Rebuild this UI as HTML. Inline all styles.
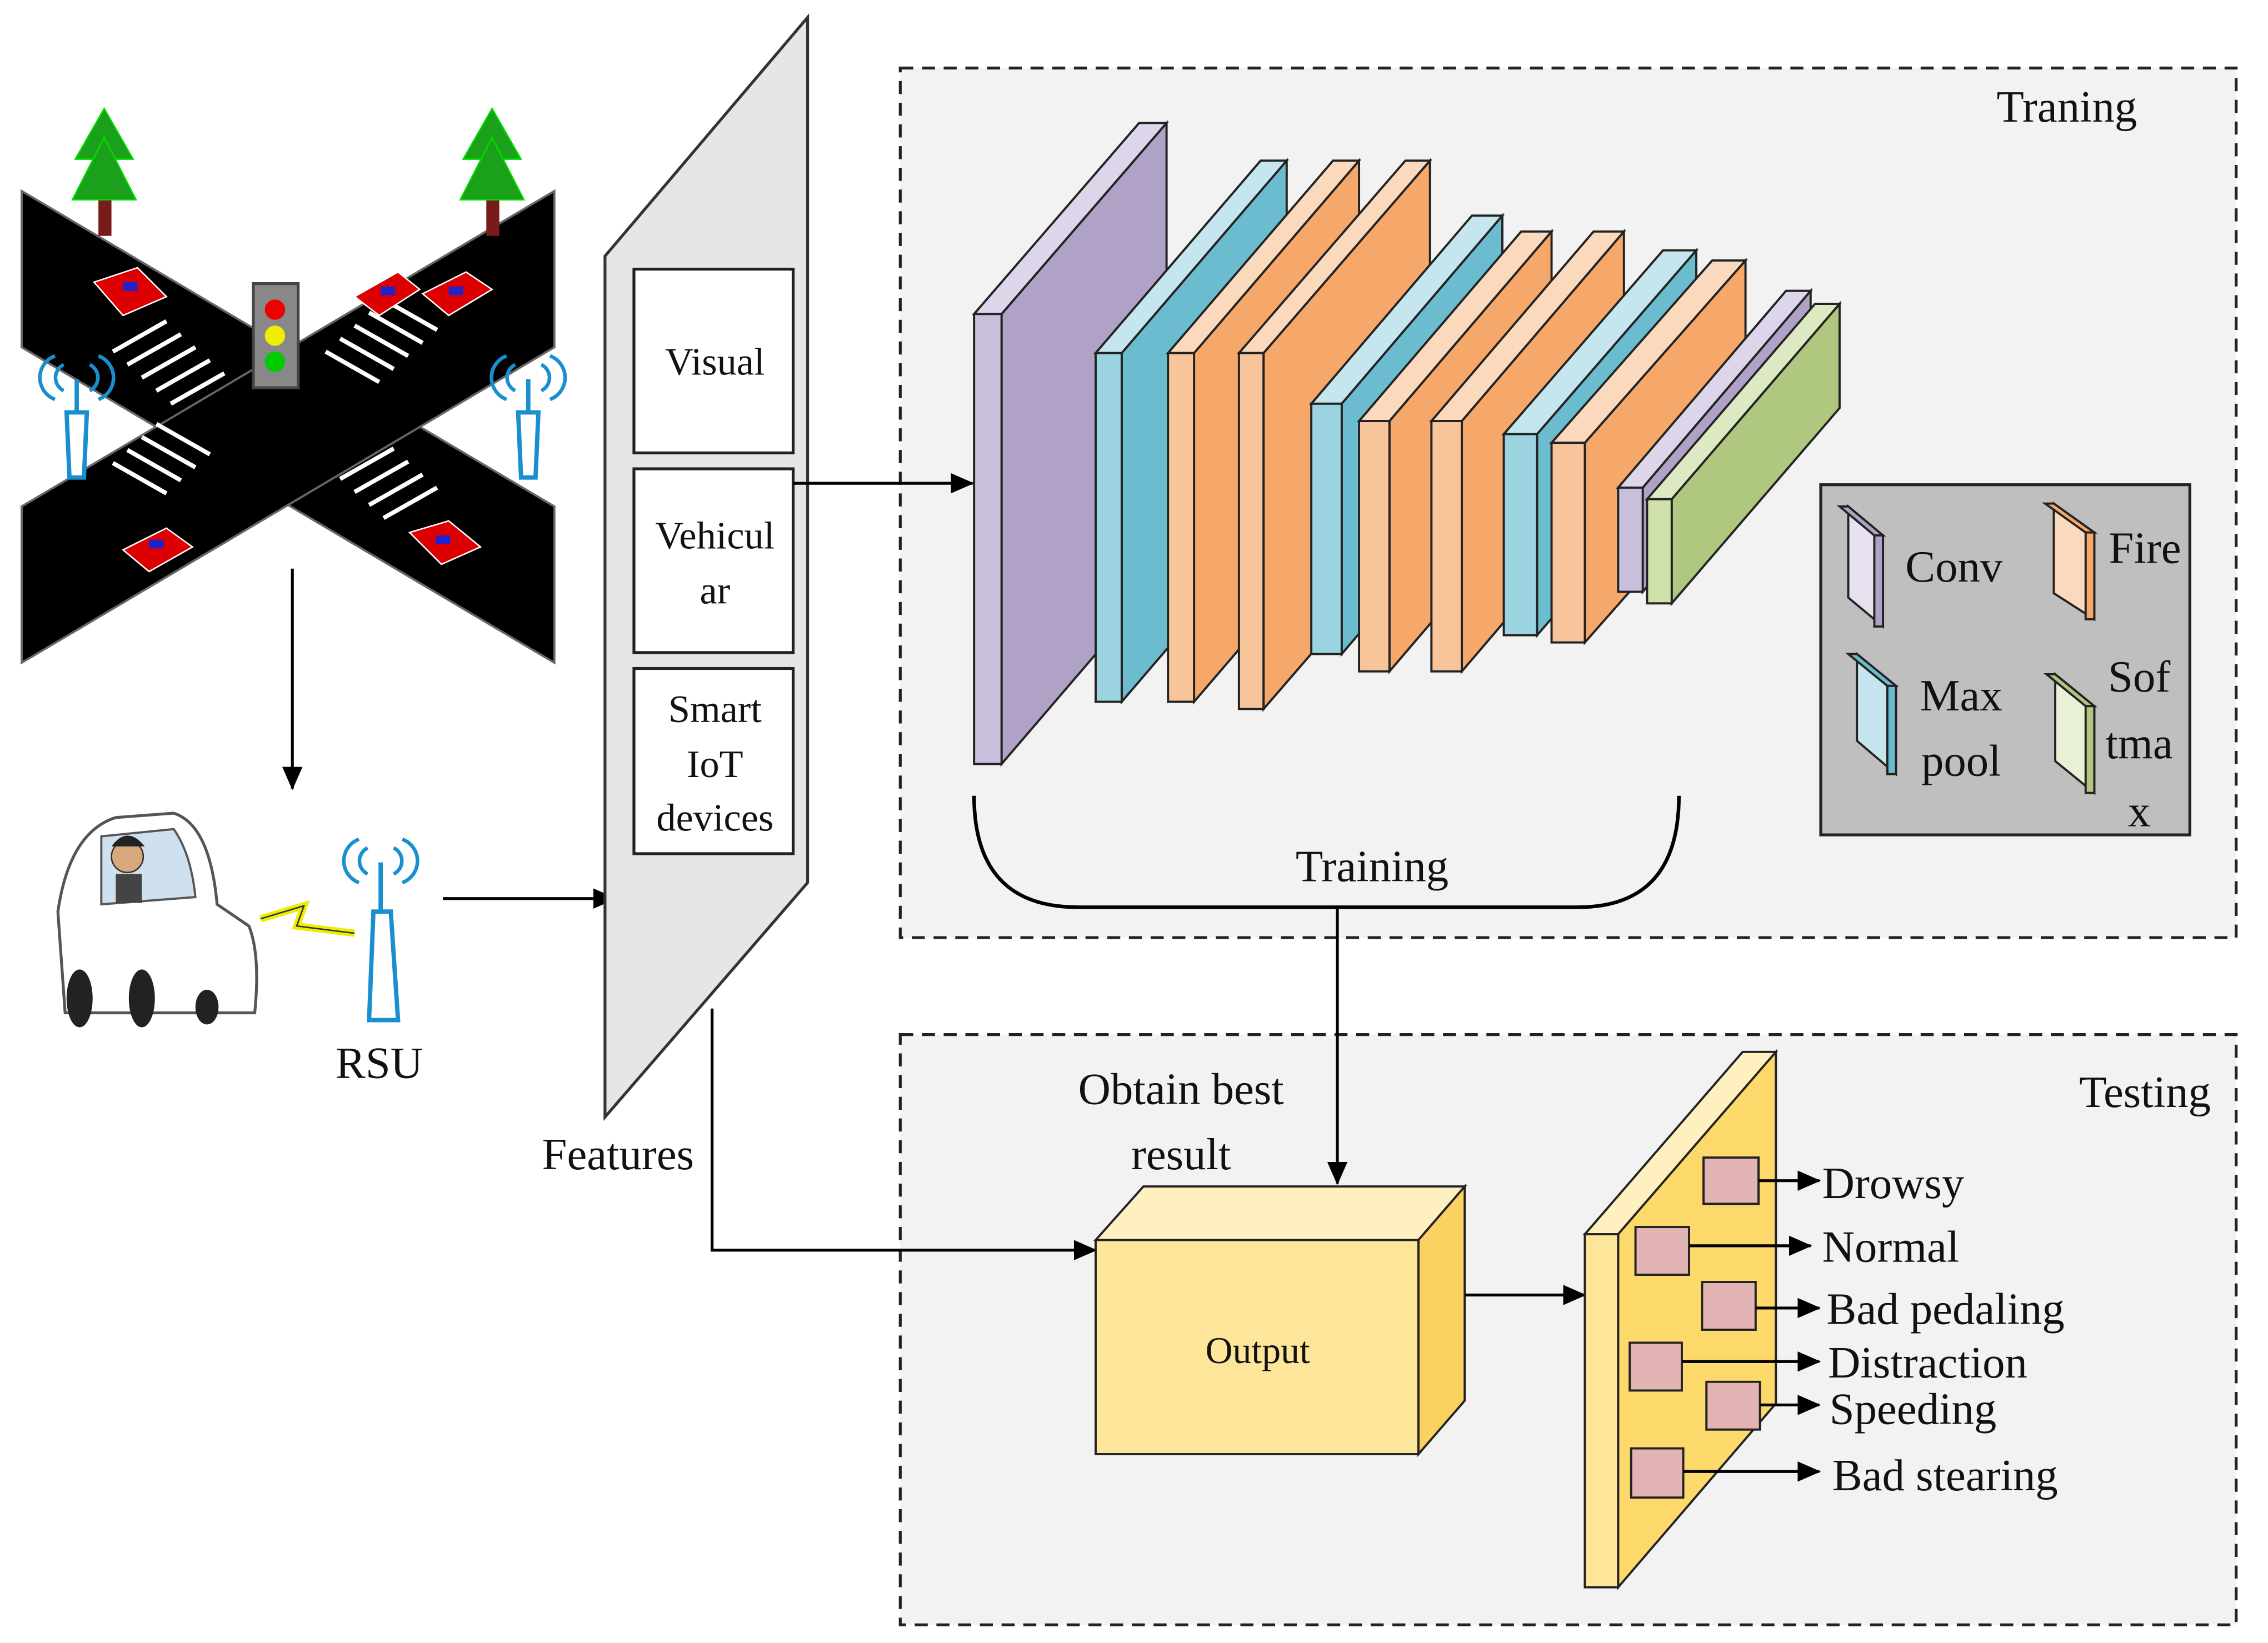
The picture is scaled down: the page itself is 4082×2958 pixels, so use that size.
<!DOCTYPE html>
<html><head><meta charset="utf-8"><style>
html,body{margin:0;padding:0;background:#fff;}
svg{display:block;}
text{font-family:"Liberation Serif",serif;fill:#111;}
</style></head><body>
<svg width="4082" height="2958" viewBox="0 0 1567 1135.5" xmlns="http://www.w3.org/2000/svg">
<defs>
<marker id="ar2" markerWidth="16" markerHeight="14" refX="15" refY="7" orient="auto" markerUnits="userSpaceOnUse"><path d="M0,0 L16,7 L0,14 z" fill="#000"/></marker>
</defs>
<rect width="1580" height="1140" fill="#fff"/>
<rect x="622" y="47" width="923" height="601" fill="#f2f2f2" stroke="#222" stroke-width="2" stroke-dasharray="9,6"/>
<rect x="622" y="715" width="923" height="408" fill="#f2f2f2" stroke="#222" stroke-width="2" stroke-dasharray="9,6"/>
<text x="1428" y="84" font-size="31" text-anchor="middle">Traning</text>
<text x="1482" y="765" font-size="31" text-anchor="middle">Testing</text>

<polygon points="15,132 383,350 383,458 15,240" fill="#000" stroke="#666" stroke-width="1.5"/>
<polygon points="383,132 383,240 15,458 15,350" fill="#000" stroke="#666" stroke-width="1.5"/>
<g stroke="#fff" stroke-width="3">
<line x1="78" y1="243" x2="115" y2="222"/><line x1="88" y1="252" x2="125" y2="231"/><line x1="98" y1="261" x2="135" y2="240"/><line x1="108" y1="270" x2="145" y2="249"/><line x1="118" y1="279" x2="155" y2="258"/>
<line x1="245" y1="225" x2="282" y2="246"/><line x1="255" y1="216" x2="292" y2="237"/><line x1="265" y1="207" x2="302" y2="228"/><line x1="235" y1="234" x2="272" y2="255"/><line x1="225" y1="243" x2="262" y2="264"/>
<line x1="78" y1="320" x2="115" y2="341"/><line x1="88" y1="311" x2="125" y2="332"/><line x1="98" y1="302" x2="135" y2="323"/><line x1="108" y1="293" x2="145" y2="314"/>
<line x1="245" y1="340" x2="282" y2="319"/><line x1="255" y1="349" x2="292" y2="328"/><line x1="265" y1="358" x2="302" y2="337"/><line x1="235" y1="331" x2="272" y2="310"/>
</g>
<g><rect x="68" y="135" width="9" height="28" fill="#7a1b1b"/><polygon points="72,75 52,110 92,110" fill="#1aa01a" stroke="#0d0" /><polygon points="72,95 50,138 94,138" fill="#1aa01a" stroke="#0d0"/></g>
<g><rect x="336" y="135" width="9" height="28" fill="#7a1b1b"/><polygon points="340,75 320,110 360,110" fill="#1aa01a" stroke="#0d0"/><polygon points="340,95 318,138 362,138" fill="#1aa01a" stroke="#0d0"/></g>
<rect x="175" y="196" width="31" height="72" fill="#888" stroke="#444" stroke-width="2"/>
<circle cx="190" cy="214" r="7" fill="#e00"/><circle cx="190" cy="232" r="7" fill="#ee0"/><circle cx="190" cy="250" r="7" fill="#0c0"/>
<g fill="#d00" stroke="#fff" stroke-width="1"><polygon points="65,195 95,185 115,205 85,218"/><polygon points="245,205 275,188 290,200 262,218"/><polygon points="292,203 322,188 340,200 310,218"/><polygon points="85,380 115,365 133,378 103,395"/><polygon points="283,368 310,360 332,378 305,390"/></g>
<g fill="#22c"><rect x="85" y="195" width="10" height="6"/><rect x="263" y="198" width="10" height="6"/><rect x="310" y="198" width="10" height="6"/><rect x="103" y="373" width="10" height="6"/><rect x="301" y="370" width="10" height="6"/></g>
<g fill="#fff" stroke="#1a8fd0" stroke-width="3"><polygon points="48,330 58,330 60,285 46,285"/><polygon points="360,330 370,330 372,285 358,285"/><polygon points="255,705 275,705 270,630 258,630"/></g>
<g fill="none" stroke="#1a8fd0" stroke-width="2.5"><path d="M44,252 a10,10 0 0,0 0,18 M62,252 a10,10 0 0,1 0,18 M38,246 a16,16 0 0,0 0,30 M68,246 a16,16 0 0,1 0,30"/><path d="M356,252 a10,10 0 0,0 0,18 M374,252 a10,10 0 0,1 0,18 M350,246 a16,16 0 0,0 0,30 M380,246 a16,16 0 0,1 0,30"/>
<path d="M254,586 a10,10 0 0,0 0,18 M272,586 a10,10 0 0,1 0,18 M248,580 a16,16 0 0,0 0,30 M278,580 a16,16 0 0,1 0,30"/></g>
<line x1="53" y1="262" x2="53" y2="285" stroke="#1a8fd0" stroke-width="3"/><line x1="365" y1="262" x2="365" y2="285" stroke="#1a8fd0" stroke-width="3"/><line x1="263" y1="596" x2="263" y2="630" stroke="#1a8fd0" stroke-width="3"/>
<text x="262" y="745" font-size="31" text-anchor="middle">RSU</text>
<path d="M45,700 L40,630 Q48,575 80,565 L120,562 Q145,570 150,625 L172,640 Q180,660 176,700 Z" fill="#fff" stroke="#555" stroke-width="2"/>
<path d="M70,578 L120,573 Q132,590 135,620 L70,625 Z" fill="#cfe0ee" stroke="#555" stroke-width="1.5"/>
<circle cx="88" cy="592" r="11" fill="#d9a77c" stroke="#333"/><path d="M77,585 Q88,570 100,585" fill="#222"/>
<rect x="80" y="604" width="18" height="20" fill="#444"/>
<ellipse cx="55" cy="690" rx="9" ry="20" fill="#222"/><ellipse cx="98" cy="690" rx="9" ry="20" fill="#222"/><ellipse cx="143" cy="696" rx="8" ry="12" fill="#222"/>
<polyline points="180,635 210,626 205,640 245,645" fill="none" stroke="#ee0" stroke-width="5"/><polyline points="180,635 210,626 205,640 245,645" fill="none" stroke="#333" stroke-width="1"/>
<line x1="202" y1="393" x2="202" y2="545" stroke="#000" stroke-width="2" marker-end="url(#ar2)"/>
<line x1="306" y1="621" x2="425" y2="621" stroke="#000" stroke-width="2" marker-end="url(#ar2)"/>
<polygon points="418,177 558,12 558,610 418,772" fill="#e6e6e6" stroke="#333" stroke-width="2"/>
<g fill="#fff" stroke="#222" stroke-width="2"><rect x="438" y="186" width="110" height="127"/><rect x="438" y="324" width="110" height="127"/><rect x="438" y="462" width="110" height="128"/></g>
<g font-size="27" text-anchor="middle"><text x="494" y="259">Visual</text><text x="494" y="379">Vehicul</text><text x="494" y="417">ar</text><text x="494" y="499">Smart</text><text x="494" y="537">IoT</text><text x="494" y="574">devices</text></g>
<text x="427" y="808" font-size="31" text-anchor="middle">Features</text>
<line x1="548" y1="334" x2="672" y2="334" stroke="#000" stroke-width="2" marker-end="url(#ar2)"/>
<polyline points="492,697 492,864 757,864" fill="none" stroke="#000" stroke-width="2" marker-end="url(#ar2)"/>

<g stroke="#222" stroke-width="1.5">
<polygon points="692,217 806,85 806,395 692,528" fill="#b0a2c6"/><polygon points="673,217 787,85 806,85 692,217" fill="#ddd6ea"/><rect x="673" y="217" width="19" height="311" fill="#c9bfdc"/>
<polygon points="775,244 889,111 889,352 775,485" fill="#6bbccf"/><polygon points="757,244 871,111 889,111 775,244" fill="#c5e6ee"/><rect x="757" y="244" width="18" height="241" fill="#9bd3e0"/>
<polygon points="825,244 939,111 939,352 825,485" fill="#f5a86a"/><polygon points="807,244 921,111 939,111 825,244" fill="#fbd9bc"/><rect x="807" y="244" width="18" height="241" fill="#f8c49a"/>
<polygon points="873,244 988,111 988,357 873,490" fill="#f5a86a"/><polygon points="856,244 971,111 988,111 873,244" fill="#fbd9bc"/><rect x="856" y="244" width="17" height="246" fill="#f8c49a"/>
<polygon points="927,279 1038,149 1038,322 927,452" fill="#6bbccf"/><polygon points="906,279 1017,149 1038,149 927,279" fill="#c5e6ee"/><rect x="906" y="279" width="21" height="173" fill="#9bd3e0"/>
<polygon points="960,291 1072,160 1072,333 960,464" fill="#f5a86a"/><polygon points="939,291 1051,160 1072,160 960,291" fill="#fbd9bc"/><rect x="939" y="291" width="21" height="173" fill="#f8c49a"/>
<polygon points="1010,291 1122,160 1122,333 1010,464" fill="#f5a86a"/><polygon points="989,291 1101,160 1122,160 1010,291" fill="#fbd9bc"/><rect x="989" y="291" width="21" height="173" fill="#f8c49a"/>
<polygon points="1062,300 1172,173 1172,312 1062,439" fill="#6bbccf"/><polygon points="1039,300 1149,173 1172,173 1062,300" fill="#c5e6ee"/><rect x="1039" y="300" width="23" height="139" fill="#9bd3e0"/>
<polygon points="1095,306 1206,180 1206,318 1095,444" fill="#f5a86a"/><polygon points="1072,306 1183,180 1206,180 1095,306" fill="#fbd9bc"/><rect x="1072" y="306" width="23" height="138" fill="#f8c49a"/>
<polygon points="1135,337 1251,201 1251,273 1135,409" fill="#b0a2c6"/><polygon points="1118,337 1234,201 1251,201 1135,337" fill="#ddd6ea"/><rect x="1118" y="337" width="17" height="72" fill="#c9bfdc"/>
<polygon points="1155,345 1271,210 1271,282 1155,417" fill="#afc77f"/><polygon points="1138,345 1254,210 1271,210 1155,345" fill="#dde9c2"/><rect x="1138" y="345" width="17" height="72" fill="#cfe0a8"/>
</g>
<path d="M673,550 Q673,627 745,627 L1090,627 Q1160,627 1160,550" fill="none" stroke="#000" stroke-width="2.5"/>
<text x="948" y="609" font-size="31" text-anchor="middle">Training</text>
<line x1="924" y1="627" x2="924" y2="818" stroke="#000" stroke-width="2" marker-end="url(#ar2)"/>

<rect x="1258" y="335" width="255" height="242" fill="#bfbfbf" stroke="#222" stroke-width="2"/>
<g stroke="#222" stroke-width="1.5">
<polygon points="1277,350 1301,370 1301,433 1277,413" fill="#e6e0ef"/><polygon points="1271,350 1277,350 1301,370 1295,370" fill="#b0a2c6"/><polygon points="1295,370 1301,370 1301,433 1295,433" fill="#b0a2c6"/>
<polygon points="1419,348 1447,368 1447,428 1419,410" fill="#fbd9bc"/><polygon points="1413,348 1419,348 1447,368 1441,368" fill="#f5a86a"/><polygon points="1441,368 1447,368 1447,428 1441,428" fill="#f5a86a"/>
<polygon points="1283,452 1310,474 1310,535 1283,512" fill="#c5e6ee"/><polygon points="1277,452 1283,452 1310,474 1304,474" fill="#6bbccf"/><polygon points="1304,474 1310,474 1310,535 1304,535" fill="#6bbccf"/>
<polygon points="1420,466 1447,488 1447,548 1420,526" fill="#e8f0d6"/><polygon points="1414,466 1420,466 1447,488 1441,488" fill="#afc77f"/><polygon points="1441,488 1447,488 1447,548 1441,548" fill="#afc77f"/>
</g>
<g font-size="31" text-anchor="middle"><text x="1350" y="402">Conv</text><text x="1482" y="389">Fire</text><text x="1355" y="491">Max</text><text x="1355" y="536">pool</text><text x="1478" y="478">Sof</text><text x="1478" y="524">tma</text><text x="1478" y="571">x</text></g>

<text x="816" y="763" font-size="31" text-anchor="middle">Obtain best</text>
<text x="816" y="808" font-size="31" text-anchor="middle">result</text>
<g stroke="#222" stroke-width="1.5">
<polygon points="757,857 790,820 1012,820 980,857" fill="#fff0c0"/>
<polygon points="980,857 1012,820 1012,968 980,1005" fill="#f9d262"/>
<rect x="757" y="857" width="223" height="148" fill="#fde69a"/>
</g>
<text x="869" y="942" font-size="26" text-anchor="middle">Output</text>
<line x1="1012" y1="895" x2="1095" y2="895" stroke="#000" stroke-width="2" marker-end="url(#ar2)"/>
<g stroke="#222" stroke-width="1.5">
<polygon points="1095,853 1204,727 1227,727 1118,853" fill="#fff0c0"/>
<polygon points="1118,853 1227,727 1227,970 1118,1097" fill="#fdd86a"/>
<rect x="1095" y="853" width="23" height="244" fill="#fde69a"/>
</g>
<g fill="#e2b4b4" stroke="#222" stroke-width="1.5"><rect x="1177" y="800" width="38" height="32"/><rect x="1130" y="848" width="37" height="33"/><rect x="1176" y="886" width="37" height="33"/><rect x="1126" y="928" width="36" height="33"/><rect x="1179" y="955" width="37" height="33"/><rect x="1127" y="1001" width="36" height="34"/></g>
<g stroke="#000" stroke-width="2">
<line x1="1215" y1="816" x2="1257" y2="816" marker-end="url(#ar2)"/>
<line x1="1167" y1="861" x2="1251" y2="861" marker-end="url(#ar2)"/>
<line x1="1213" y1="904" x2="1257" y2="904" marker-end="url(#ar2)"/>
<line x1="1162" y1="941" x2="1257" y2="941" marker-end="url(#ar2)"/>
<line x1="1216" y1="971" x2="1257" y2="971" marker-end="url(#ar2)"/>
<line x1="1163" y1="1017" x2="1257" y2="1017" marker-end="url(#ar2)"/>
</g>
<g font-size="31"><text x="1259" y="828">Drowsy</text><text x="1259" y="872">Normal</text><text x="1262" y="915">Bad pedaling</text><text x="1263" y="952">Distraction</text><text x="1264" y="984">Speeding</text><text x="1266" y="1030">Bad stearing</text></g>
</svg>
</body></html>
